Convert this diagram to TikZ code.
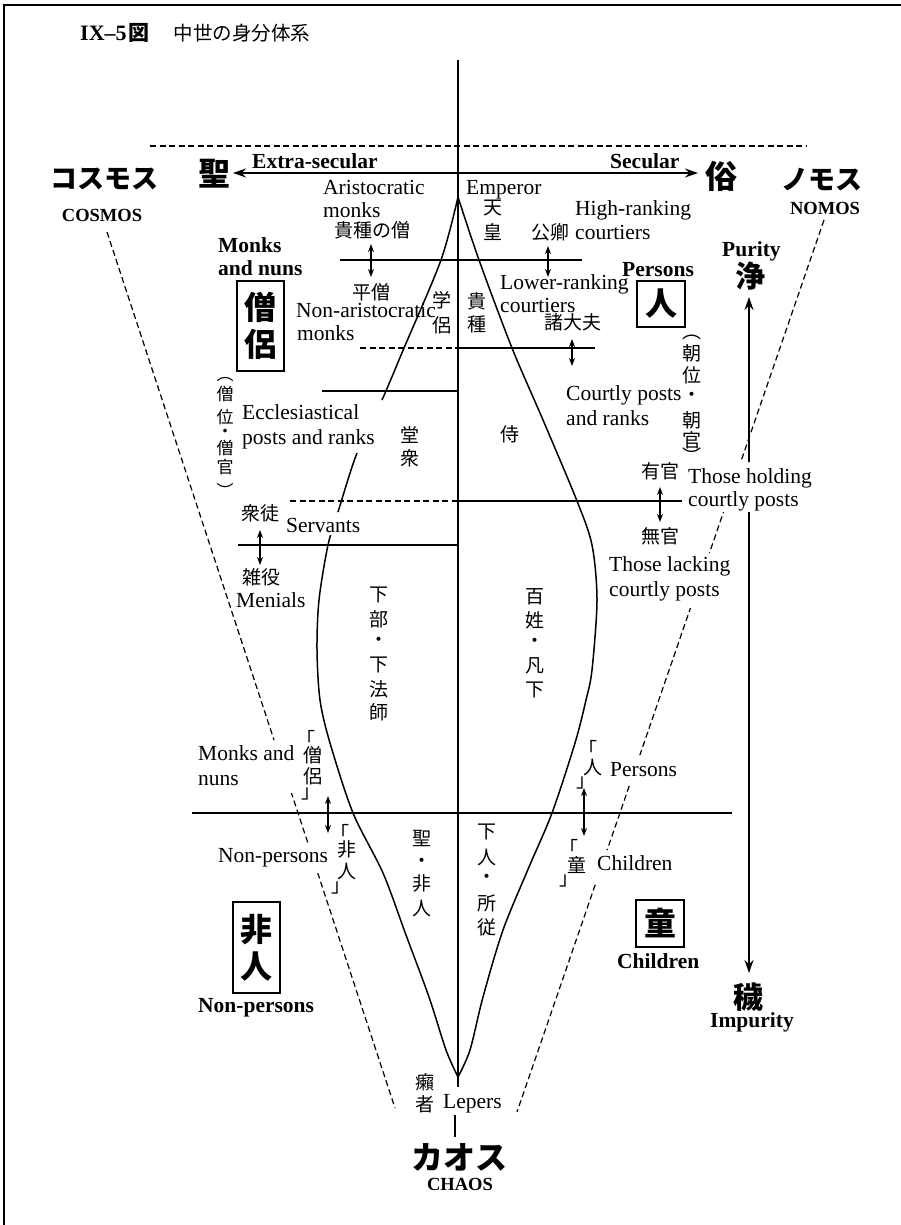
\documentclass[tikz,border=0pt]{standalone}
\usepackage{fontspec}
\setmainfont{Liberation Serif}
\newfontfamily\jp{Noto Sans CJK JP}
\usetikzlibrary{arrows.meta}
\newcommand\vstack[4]{\foreach \vch/\vy [count=\vi] in {#4} {\node[#1] (#2\vi) at (#3,\vy) {\vch};}}
\begin{document}
\begin{tikzpicture}[x=1pt,y=-1pt,
 en/.style={anchor=base west,inner sep=0pt,font=\fontsize{21.5}{25}\selectfont},
 enb/.style={anchor=base west,inner sep=0pt,font=\bfseries\fontsize{21.5}{25}\selectfont},
 caps/.style={inner sep=0pt,font=\bfseries\fontsize{18.5}{22}\selectfont},
 jpc/.style={inner sep=0pt,font=\jp\fontsize{19}{22}\selectfont},
 jps/.style={inner sep=0pt,font=\jp\fontsize{17}{20}\selectfont},
 jbig/.style={inner sep=0pt,font=\jp\bfseries\fontsize{32}{36}\selectfont},
 jkata/.style={inner sep=0pt,font=\jp\bfseries\fontsize{27}{30}\selectfont},
 boxj/.style={draw,line width=1.2pt,inner sep=0pt,align=center,font=\jp\bfseries\fontsize{32}{37}\selectfont},
 ln/.style={line width=1.5pt},
 dsh/.style={line width=1.2pt,dash pattern=on 6pt off 3.5pt},
 dbl/.style={line width=1.3pt,>={Stealth[length=8pt,width=6pt]},<->},
 bigarr/.style={line width=1.5pt,>={Stealth[length=13pt,width=9pt]},<->}]
\useasboundingbox (0,0) rectangle (901,1225);
% frame
\draw[line width=2.4pt] (4,1225) -- (4,5) -- (901,5);
% title
\node[anchor=base west,inner sep=0pt,font=\bfseries\fontsize{22}{24}\selectfont] (tA) at (80,41) {IX–5};
\node[inner sep=0pt,font=\jp\bfseries\fontsize{21}{24}\selectfont] (tB) at (139,33) {図};
\node[inner sep=0pt,font=\jp\fontsize{19.5}{24}\selectfont] (tC) at (242,33) {中世の身分体系};
% top dashed line and centre axis
\draw[dsh] (150,146) -- (806,146);
\coordinate (ctop) at (458,60);
\coordinate (cbot) at (458,1087);
\draw[ln] (ctop) -- (cbot);
% sacred / secular
\node[jbig] (sei) at (214,174) {聖};
\node[jbig] (zoku) at (721,176) {俗};
\coordinate (hl) at (233,173);
\coordinate (hr) at (698,173);
\draw[bigarr] (hl) -- (hr);
\node[enb] (exs) at (252,168) {Extra-secular};
\node[enb] (sec) at (610,168) {Secular};
\node[jkata] (cosmosj) at (104,179) {コスモス};
\node[caps] (cosmos) at (102,215) {COSMOS};
\node[jkata] (nomosj) at (822,180) {ノモス};
\node[caps] (nomos) at (825,208) {NOMOS};
% lens, right curve
\draw[ln] plot[smooth,tension=0.5] coordinates {(458,197) (479,260) (512,348) (543,420) (577,501) (592,545) (597,600) (592,670) (586,700) (575,743) (552,813) (529,867) (503,930) (483,997) (470,1050) (458,1077)};
% horizontal dividers
\draw[ln] (340,260) -- (582,260);
\draw[dsh] (360,348) -- (458,348);
\draw[ln] (458,348) -- (595,348);
\draw[ln] (322,391) -- (458,391);
\draw[dsh] (290,501) -- (458,501);
\draw[ln] (458,501) -- (682,501);
\draw[ln] (238,545) -- (458,545);
\draw[ln] (192,813) -- (732,813);
% gapped lines
\coordinate (pu) at (749,297);
\coordinate (im) at (749,973);
\begin{scope}[even odd rule]
\clip (0,0) rectangle (901,1225)
  (330,400) rectangle (400,453) (300,512) rectangle (370,535)
  (260,740) rectangle (300,793) (295,843) rectangle (325,873)
  (715,462) rectangle (765,512) (680,553) rectangle (720,608)
  (620,755) rectangle (650,783) (585,850) rectangle (615,882);
\draw[ln] plot[smooth,tension=0.5] coordinates {(458,197) (441,260) (404,348) (382,400) (357,453) (338,512) (328,545) (319,600) (317,650) (320,700) (330,743) (353,813) (383,873) (406,935) (429,997) (446,1050) (458,1077)};
\draw[dsh] (107,232) -- (395,1108);
\draw[dsh] (824,220) -- (517,1112);
\draw[bigarr] (pu) -- (im);
\end{scope}
% small double arrows
\draw[dbl] (371,244) -- (371,277);
\draw[dbl] (548,246) -- (548,277);
\draw[dbl] (572,339) -- (572,366);
\draw[dbl] (660,487) -- (660,522);
\draw[dbl] (260,530) -- (260,565);
\draw[dbl] (328,796) -- (328,833);
\draw[dbl] (584,788) -- (584,836);
% English labels
\node[en] (ar1) at (323,194) {Aristocratic};
\node[en] (ar2) at (323,217) {monks};
\node[en] (emp) at (466,194) {Emperor};
\node[en] (hr1) at (575,215) {High-ranking};
\node[en] (hr2) at (575,239) {courtiers};
\node[en] (na1) at (296,317) {Non-aristocratic};
\node[en] (na2) at (297,340) {monks};
\node[en] (lr1) at (500,289) {Lower-ranking};
\node[en] (lr2) at (500,312) {courtiers};
\node[en] (cp1) at (566,400) {Courtly posts};
\node[en] (cp2) at (566,425) {and ranks};
\node[en] (ec1) at (242,419) {Ecclesiastical};
\node[en] (ec2) at (242,444) {posts and ranks};
\node[en] (th1) at (688,483) {Those holding};
\node[en] (th2) at (688,506) {courtly posts};
\node[en] (tl1) at (609,571) {Those lacking};
\node[en] (tl2) at (609,596) {courtly posts};
\node[en] (serv) at (286,532) {Servants};
\node[en] (men) at (236,607) {Menials};
\node[en] (mn1) at (198,760) {Monks and};
\node[en] (mn2) at (198,785) {nuns};
\node[en] (nonp) at (218,862) {Non-persons};
\node[en] (pers) at (610,776) {Persons};
\node[en] (chil) at (597,870) {Children};
\node[en] (lep) at (443,1108) {Lepers};
% bold English labels
\node[enb] (mk1) at (218,252) {Monks};
\node[enb] (mk2) at (218,275) {and nuns};
\node[enb] (persb) at (622,276) {Persons};
\node[enb] (pur) at (722,256) {Purity};
\node[enb] (chilb) at (617,968) {Children};
\node[enb] (nonpb) at (198,1012) {Non-persons};
\node[enb] (impur) at (710,1027) {Impurity};
\node[caps] (chaos) at (460,1184) {CHAOS};
% horizontal Japanese labels
\node[jpc] (kishuso) at (372,230) {貴種の僧};
\node[jpc] (kugyo) at (550,232) {公卿};
\node[jpc] (heiso) at (371,292) {平僧};
\node[jpc] (shodaibu) at (573,322) {諸大夫};
\node[jpc] (ukan) at (660,471) {有官};
\node[jpc] (mukan) at (660,536) {無官};
\node[jpc] (shuto) at (260,513) {衆徒};
\node[jpc] (zoyaku) at (261,577) {雑役};
% vertical Japanese labels
\vstack{jpc}{tn}{493}{天/208,皇/232}
\vstack{jpc}{gr}{442}{学/300,侶/325}
\vstack{jpc}{ks}{477}{貴/301,種/324}
\vstack{jpc}{ds}{410}{堂/435,衆/458}
\node[jpc] (samurai) at (510,434) {侍};
\vstack{jpc}{gb}{379}{下/595,部/619,・/642,下/665,法/689,師/712}
\vstack{jpc}{hs}{535}{百/597,姓/620,・/643,凡/666,下/690}
\vstack{jps}{sg}{225}{︵/380,僧/394,位/417,・/433,僧/448,官/467,︶/490}
\vstack{jpc}{ch}{692}{︵/337,朝/353,位/375,・/397,朝/420,官/440,︶/456}
\vstack{jpc}{snh}{422}{聖/838,・/863,非/883,人/908}
\vstack{jpc}{gnh}{487}{下/832,人/857,・/879,所/903,従/927}
\vstack{jpc}{rai}{425}{癩/1082,者/1104}
\node[jpc] (b1a) at (306,738) {「};
\node[jpc] (b1b) at (313,755) {僧};
\node[jpc] (b1c) at (313,776) {侶};
\node[jpc] (b1d) at (311,794) {」};
\node[jpc] (b2a) at (340,832) {「};
\node[jpc] (b2b) at (347,849) {非};
\node[jpc] (b2c) at (347,871) {人};
\node[jpc] (b2d) at (341,888) {」};
\node[jpc] (b3a) at (588,748) {「};
\node[jpc] (b3b) at (593,767) {人};
\node[jpc] (b3c) at (586,783) {」};
\node[jpc] (b4a) at (569,847) {「};
\node[jpc] (b4b) at (577,865) {童};
\node[jpc] (b4c) at (569,881) {」};
% boxed characters
\node[boxj,minimum width=47pt,minimum height=90pt] (soryo) at (260.5,326) {僧\\侶};
\node[boxj,minimum width=48pt,minimum height=46pt] (hito) at (661,304) {人};
\node[boxj,minimum width=47pt,minimum height=91pt] (hinin) at (256.5,947.5) {非\\人};
\node[boxj,minimum width=48pt,minimum height=47pt] (warawa) at (660,923.5) {童};
% purity / impurity / chaos
\node[inner sep=0pt,font=\jp\bfseries\fontsize{30}{34}\selectfont] (jo) at (750,276) {浄};
\node[inner sep=0pt,font=\jp\bfseries\fontsize{30}{34}\selectfont] (kegare) at (748,997) {穢};
\node[inner sep=0pt,font=\jp\bfseries\fontsize{32}{36}\selectfont] (chaosj) at (459,1157) {カオス};
\coordinate (lk1) at (455,1115);
\coordinate (lk2) at (455,1137);
\draw[ln] (lk1) -- (lk2);
\end{tikzpicture}
\end{document}
